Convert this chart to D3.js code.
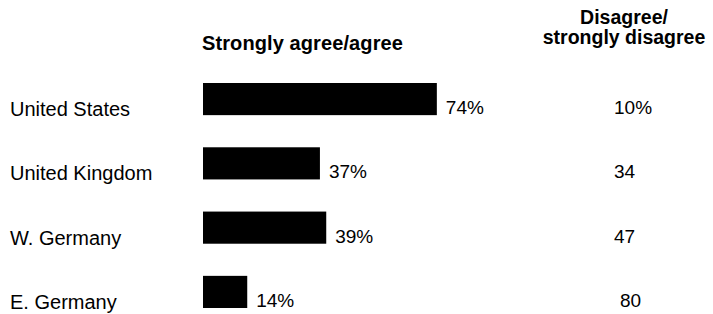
<!DOCTYPE html>
<html>
<head>
<meta charset="utf-8">
<script src="https://cdn.jsdelivr.net/npm/d3@7"></script>
<style>
  body { margin: 0; background: #fff; }
  text { font-family: "Liberation Sans", Arial, sans-serif; fill: #000; }
</style>
</head>
<body>
<div id="chart"></div>
<script>
// survey data
const countries = ["United States", "United Kingdom", "W. Germany", "E. Germany"];
const agree = [74, 37, 39, 14];
const disagree = [10, 34, 47, 80];
const agreeTitle = "Strongly agree/agree";
const disagreeTitle = ["Disagree/", "strongly disagree"];

const w = 713, h = 314;

const svg = d3.select("#chart").append("svg")
    .attr("width", w)
    .attr("height", h);

const x = d3.scaleLinear().domain([0, 100]).range([203, 203 + 316]);
const y = d3.scaleBand().domain(countries).range([83, 308]).paddingInner(0.5).paddingOuter(0);

// column headers
svg.append("text")
    .attr("x", 202)
    .attr("y", 50)
    .style("font-size", "20px")
    .style("font-weight", "bold")
    .style("letter-spacing", "0.1px")
    .text(agreeTitle);

svg.selectAll("text.dhead")
    .data(disagreeTitle)
    .enter()
    .append("text")
    .attr("class", "dhead")
    .attr("x", 624)
    .attr("y", (d, i) => 24 + i * 20)
    .attr("text-anchor", "middle")
    .style("font-size", "19.5px")
    .style("font-weight", "bold")
    .text(d => d);

const rows = svg.selectAll("g.row")
    .data(countries)
    .enter()
    .append("g")
    .attr("class", "row");

// country names
rows.append("text")
    .attr("x", 10)
    .attr("y", d => y(d) + y.bandwidth() + 1)
    .style("font-size", "20px")
    .text(d => d);

// bars
rows.append("rect")
    .attr("x", x(0))
    .attr("y", d => y(d))
    .attr("width", (d, i) => x(agree[i]) - x(0))
    .attr("height", y.bandwidth())
    .attr("fill", "#000");

// agree value labels
rows.append("text")
    .attr("x", (d, i) => x(agree[i]) + 9)
    .attr("y", d => y(d) + y.bandwidth() - 1)
    .style("font-size", "19px")
    .text((d, i) => agree[i] + "%");

// disagree column
rows.append("text")
    .attr("x", (d, i) => i == 3 ? 620 : 614)
    .attr("y", d => y(d) + y.bandwidth() - 1)
    .style("font-size", "19px")
    .text((d, i) => i == 0 ? disagree[i] + "%" : disagree[i]);
</script>
</body>
</html>
